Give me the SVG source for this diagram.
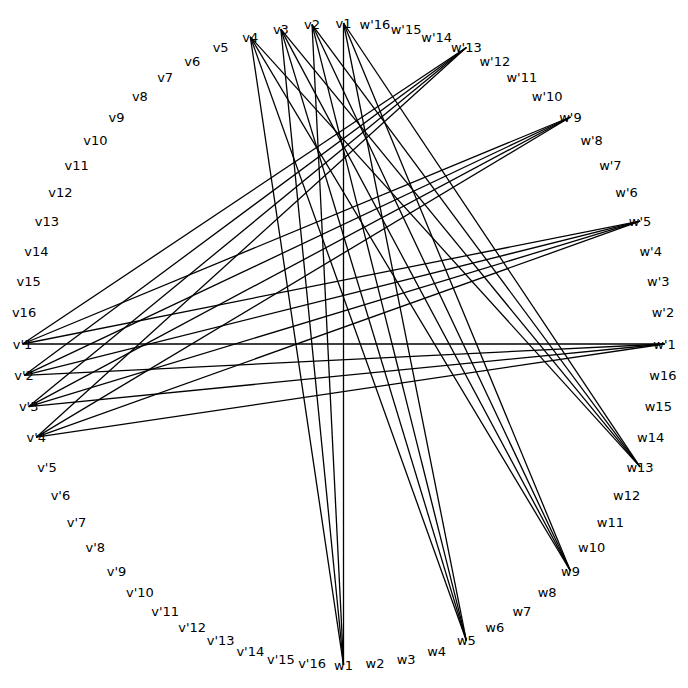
<svg xmlns="http://www.w3.org/2000/svg" width="688" height="688" viewBox="0 0 688 688">
<style>
.e{stroke:#000;stroke-width:1.3;fill:none}
.l{font-family:"DejaVu Sans",sans-serif;font-size:13px;fill:#000;text-anchor:middle}
</style>
<rect width="688" height="688" fill="#fff"/>
<g id="edges" class="e">
<line x1="343.5" y1="23" x2="343.5" y2="665"/>
<line x1="343.5" y1="23" x2="466.34" y2="640.57"/>
<line x1="343.5" y1="23" x2="570.48" y2="570.98"/>
<line x1="343.5" y1="23" x2="640.07" y2="466.84"/>
<line x1="312.04" y1="24.55" x2="343.5" y2="665"/>
<line x1="312.04" y1="24.55" x2="466.34" y2="640.57"/>
<line x1="312.04" y1="24.55" x2="570.48" y2="570.98"/>
<line x1="312.04" y1="24.55" x2="640.07" y2="466.84"/>
<line x1="280.88" y1="29.17" x2="343.5" y2="665"/>
<line x1="280.88" y1="29.17" x2="466.34" y2="640.57"/>
<line x1="280.88" y1="29.17" x2="570.48" y2="570.98"/>
<line x1="280.88" y1="29.17" x2="640.07" y2="466.84"/>
<line x1="250.32" y1="36.82" x2="343.5" y2="665"/>
<line x1="250.32" y1="36.82" x2="466.34" y2="640.57"/>
<line x1="250.32" y1="36.82" x2="570.48" y2="570.98"/>
<line x1="250.32" y1="36.82" x2="640.07" y2="466.84"/>
<line x1="22.5" y1="344" x2="664.5" y2="344"/>
<line x1="22.5" y1="344" x2="640.07" y2="221.16"/>
<line x1="22.5" y1="344" x2="570.48" y2="117.02"/>
<line x1="22.5" y1="344" x2="466.34" y2="47.43"/>
<line x1="24.05" y1="375.46" x2="664.5" y2="344"/>
<line x1="24.05" y1="375.46" x2="640.07" y2="221.16"/>
<line x1="24.05" y1="375.46" x2="570.48" y2="117.02"/>
<line x1="24.05" y1="375.46" x2="466.34" y2="47.43"/>
<line x1="28.67" y1="406.62" x2="664.5" y2="344"/>
<line x1="28.67" y1="406.62" x2="640.07" y2="221.16"/>
<line x1="28.67" y1="406.62" x2="570.48" y2="117.02"/>
<line x1="28.67" y1="406.62" x2="466.34" y2="47.43"/>
<line x1="36.32" y1="437.18" x2="664.5" y2="344"/>
<line x1="36.32" y1="437.18" x2="640.07" y2="221.16"/>
<line x1="36.32" y1="437.18" x2="570.48" y2="117.02"/>
<line x1="36.32" y1="437.18" x2="466.34" y2="47.43"/>
</g>
<g class="l">
<g id="wp1"><text x="664.5" y="344" dy="0.36em">w'1</text></g>
<g id="wp2"><text x="662.95" y="312.54" dy="0.36em">w'2</text></g>
<g id="wp3"><text x="658.33" y="281.38" dy="0.36em">w'3</text></g>
<g id="wp4"><text x="650.68" y="250.82" dy="0.36em">w'4</text></g>
<g id="wp5"><text x="640.07" y="221.16" dy="0.36em">w'5</text></g>
<g id="wp6"><text x="626.6" y="192.68" dy="0.36em">w'6</text></g>
<g id="wp7"><text x="610.4" y="165.66" dy="0.36em">w'7</text></g>
<g id="wp8"><text x="591.64" y="140.36" dy="0.36em">w'8</text></g>
<g id="wp9"><text x="570.48" y="117.02" dy="0.36em">w'9</text></g>
<g id="wp10"><text x="547.14" y="95.86" dy="0.36em">w'10</text></g>
<g id="wp11"><text x="521.84" y="77.1" dy="0.36em">w'11</text></g>
<g id="wp12"><text x="494.82" y="60.9" dy="0.36em">w'12</text></g>
<g id="wp13"><text x="466.34" y="47.43" dy="0.36em">w'13</text></g>
<g id="wp14"><text x="436.68" y="36.82" dy="0.36em">w'14</text></g>
<g id="wp15"><text x="406.12" y="29.17" dy="0.36em">w'15</text></g>
<g id="wp16"><text x="374.96" y="24.55" dy="0.36em">w'16</text></g>
<g id="v1"><text x="343.5" y="23" dy="0.36em">v1</text></g>
<g id="v2"><text x="312.04" y="24.55" dy="0.36em">v2</text></g>
<g id="v3"><text x="280.88" y="29.17" dy="0.36em">v3</text></g>
<g id="v4"><text x="250.32" y="36.82" dy="0.36em">v4</text></g>
<g id="v5"><text x="220.66" y="47.43" dy="0.36em">v5</text></g>
<g id="v6"><text x="192.18" y="60.9" dy="0.36em">v6</text></g>
<g id="v7"><text x="165.16" y="77.1" dy="0.36em">v7</text></g>
<g id="v8"><text x="139.86" y="95.86" dy="0.36em">v8</text></g>
<g id="v9"><text x="116.52" y="117.02" dy="0.36em">v9</text></g>
<g id="v10"><text x="95.36" y="140.36" dy="0.36em">v10</text></g>
<g id="v11"><text x="76.6" y="165.66" dy="0.36em">v11</text></g>
<g id="v12"><text x="60.4" y="192.68" dy="0.36em">v12</text></g>
<g id="v13"><text x="46.93" y="221.16" dy="0.36em">v13</text></g>
<g id="v14"><text x="36.32" y="250.82" dy="0.36em">v14</text></g>
<g id="v15"><text x="28.67" y="281.38" dy="0.36em">v15</text></g>
<g id="v16"><text x="24.05" y="312.54" dy="0.36em">v16</text></g>
<g id="vp1"><text x="22.5" y="344" dy="0.36em">v'1</text></g>
<g id="vp2"><text x="24.05" y="375.46" dy="0.36em">v'2</text></g>
<g id="vp3"><text x="28.67" y="406.62" dy="0.36em">v'3</text></g>
<g id="vp4"><text x="36.32" y="437.18" dy="0.36em">v'4</text></g>
<g id="vp5"><text x="46.93" y="466.84" dy="0.36em">v'5</text></g>
<g id="vp6"><text x="60.4" y="495.32" dy="0.36em">v'6</text></g>
<g id="vp7"><text x="76.6" y="522.34" dy="0.36em">v'7</text></g>
<g id="vp8"><text x="95.36" y="547.64" dy="0.36em">v'8</text></g>
<g id="vp9"><text x="116.52" y="570.98" dy="0.36em">v'9</text></g>
<g id="vp10"><text x="139.86" y="592.14" dy="0.36em">v'10</text></g>
<g id="vp11"><text x="165.16" y="610.9" dy="0.36em">v'11</text></g>
<g id="vp12"><text x="192.18" y="627.1" dy="0.36em">v'12</text></g>
<g id="vp13"><text x="220.66" y="640.57" dy="0.36em">v'13</text></g>
<g id="vp14"><text x="250.32" y="651.18" dy="0.36em">v'14</text></g>
<g id="vp15"><text x="280.88" y="658.83" dy="0.36em">v'15</text></g>
<g id="vp16"><text x="312.04" y="663.45" dy="0.36em">v'16</text></g>
<g id="w1"><text x="343.5" y="665" dy="0.36em">w1</text></g>
<g id="w2"><text x="374.96" y="663.45" dy="0.36em">w2</text></g>
<g id="w3"><text x="406.12" y="658.83" dy="0.36em">w3</text></g>
<g id="w4"><text x="436.68" y="651.18" dy="0.36em">w4</text></g>
<g id="w5"><text x="466.34" y="640.57" dy="0.36em">w5</text></g>
<g id="w6"><text x="494.82" y="627.1" dy="0.36em">w6</text></g>
<g id="w7"><text x="521.84" y="610.9" dy="0.36em">w7</text></g>
<g id="w8"><text x="547.14" y="592.14" dy="0.36em">w8</text></g>
<g id="w9"><text x="570.48" y="570.98" dy="0.36em">w9</text></g>
<g id="w10"><text x="591.64" y="547.64" dy="0.36em">w10</text></g>
<g id="w11"><text x="610.4" y="522.34" dy="0.36em">w11</text></g>
<g id="w12"><text x="626.6" y="495.32" dy="0.36em">w12</text></g>
<g id="w13"><text x="640.07" y="466.84" dy="0.36em">w13</text></g>
<g id="w14"><text x="650.68" y="437.18" dy="0.36em">w14</text></g>
<g id="w15"><text x="658.33" y="406.62" dy="0.36em">w15</text></g>
<g id="w16"><text x="662.95" y="375.46" dy="0.36em">w16</text></g>
</g>
</svg>
